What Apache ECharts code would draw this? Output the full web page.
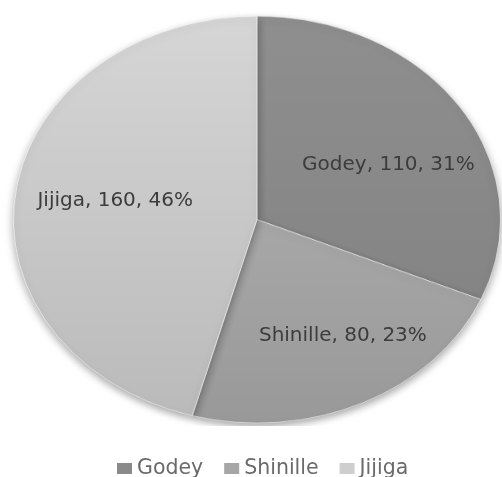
<!DOCTYPE html>
<html>
<head>
<meta charset="utf-8">
<script src="https://cdn.jsdelivr.net/npm/echarts@6/dist/echarts.min.js"></script>
<style>
  html, body { margin: 0; padding: 0; background: #ffffff; }
  #wrap { position: relative; width: 502px; height: 477px; overflow: hidden; }
  /* the pie is drawn round, then flattened into an ellipse */
  #pie { position: absolute; left: 0; top: 0; width: 502px; height: 510px;
         transform: scaleY(0.8357); transform-origin: 0 0; }
  #overlay { position: absolute; left: 0; top: 0; width: 502px; height: 477px; }
</style>
</head>
<body>
<div id="wrap">
  <div id="pie"></div>
  <div id="overlay"></div>
</div>
<script>
// Regions and their counts
const regions = ['Godey', 'Shinille', 'Jijiga'];
const counts = [110, 80, 160];

const flatColors = ['#8a8a8a', '#a6a6a6', '#cecece'];
const gradientStops = [
  ['#8f8f8f', '#808080'],
  ['#b6b6b6', '#999999'],
  ['#d6d6d6', '#bababa']
];

// ellipse geometry (overlay coordinates)
const CX = 257, CY = 219.5, RX = 243.5, RY = 203.5;
const SCALE_Y = RY / RX;

const pieData = regions.map((name, i) => ({ name, value: counts[i] }));

// ---- the ellipse itself ----
const pieChart = echarts.init(document.getElementById('pie'), null, { renderer: 'canvas' });
pieChart.setOption({
  animation: false,
  series: [{
    type: 'pie',
    center: [CX, CY / SCALE_Y],
    radius: RX,
    startAngle: 90,
    clockwise: true,
    silent: true,
    label: { show: false },
    labelLine: { show: false },
    data: pieData.map((d, i) => ({
      name: d.name,
      value: d.value,
      itemStyle: {
        color: {
          type: 'linear', global: true,
          x: 0, y: CY / SCALE_Y - RX, x2: 0, y2: CY / SCALE_Y + RX,
          colorStops: [
            { offset: 0, color: gradientStops[i][0] },
            { offset: 1, color: gradientStops[i][1] }
          ]
        },
        borderColor: 'rgba(255,255,255,0.55)',
        borderWidth: 1,
        shadowBlur: 10,
        shadowOffsetY: 4,
        shadowColor: 'rgba(0,0,0,0.35)'
      }
    }))
  }]
});

// ---- labels and legend, drawn unscaled on top ----
const total = counts.reduce((a, b) => a + b, 0);
const midAngles = [];
{
  let acc = 0;
  counts.forEach(v => {
    const a0 = acc / total * Math.PI * 2;
    acc += v;
    const a1 = acc / total * Math.PI * 2;
    midAngles.push((a0 + a1) / 2);
  });
}
const LABEL_R = 0.6;
const labelShift = [[9.5, 13], [22.5, 6.5], [3, -2]];

const overlay = echarts.init(document.getElementById('overlay'), null, { renderer: 'canvas' });
overlay.setOption({
  animation: false,
  backgroundColor: 'transparent',
  legend: {
    top: 453,
    left: 112,
    icon: 'rect',
    itemWidth: 15,
    itemHeight: 11,
    itemGap: 21,
    textStyle: { fontFamily: 'DejaVu Sans', fontSize: 20.5, color: '#6a6a6a' },
    data: regions.map((name, i) => ({ name, itemStyle: { color: flatColors[i], opacity: 1 } }))
  },
  series: [{
    type: 'pie',
    center: [CX, CY],
    radius: RY,
    startAngle: 90,
    clockwise: true,
    silent: true,
    percentPrecision: 0,
    label: {
      show: true,
      position: 'inside',
      formatter: '{b}, {c}, {d}%',
      fontFamily: 'DejaVu Sans',
      fontSize: 20,
      color: '#3c3c3c'
    },
    labelLine: { show: false },
    labelLayout: function (p) {
      const i = p.dataIndex;
      const a = midAngles[i];
      return {
        x: CX + RX * LABEL_R * Math.sin(a) + labelShift[i][0],
        y: CY - RY * LABEL_R * Math.cos(a) + labelShift[i][1],
        align: 'center',
        verticalAlign: 'middle'
      };
    },
    data: pieData.map((d, i) => ({ name: d.name, value: d.value, itemStyle: { color: 'rgba(0,0,0,0)' } }))
  }]
});
</script>
</body>
</html>
